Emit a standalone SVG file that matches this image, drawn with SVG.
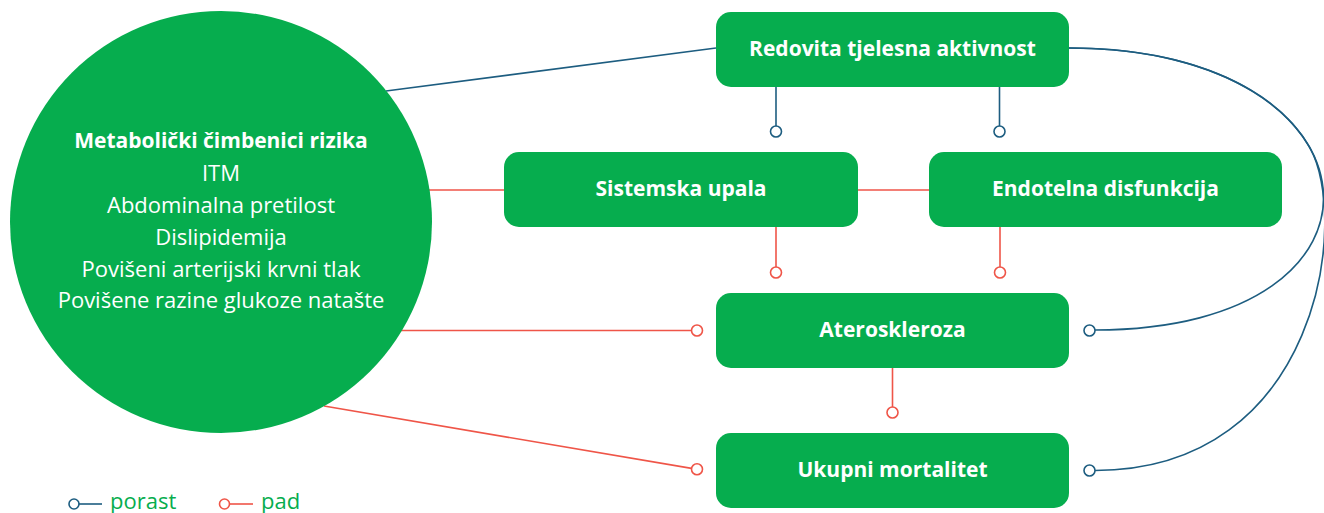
<svg xmlns="http://www.w3.org/2000/svg" width="1324" height="513" viewBox="0 0 1324 513">
<style>
.node{fill:#06ad4e}
.bt{font-family:"Open Sans","Noto Sans",sans-serif;font-weight:bold;font-size:21px;fill:#ffffff;text-anchor:middle}
.ct{font-family:"Open Sans","Noto Sans",sans-serif;font-size:22px;fill:#ffffff;text-anchor:middle}
.up{stroke:#1d5d80;stroke-width:1.6;fill:none}
.dn{stroke:#ef5548;stroke-width:1.6;fill:none}
.mu{stroke:#1d5d80;stroke-width:1.6;fill:#ffffff}
.md{stroke:#ef5548;stroke-width:1.6;fill:#ffffff}
.lg{font-family:"Open Sans","Noto Sans",sans-serif;font-size:22px;fill:#06ad4e}
</style>
<rect width="1324" height="513" fill="#ffffff"/>
<g id="connectors">
  <line class="up" x1="386" y1="91" x2="716" y2="48"/>
  <line class="up" x1="776" y1="87" x2="776" y2="126"/>
  <circle class="mu" cx="776" cy="131.5" r="5.5"/>
  <line class="up" x1="999.5" y1="87" x2="999.5" y2="126"/>
  <circle class="mu" cx="999.5" cy="131.5" r="5.5"/>
  <line class="dn" x1="429" y1="190" x2="929" y2="190"/>
  <line class="dn" x1="776" y1="227" x2="776" y2="267"/>
  <circle class="md" cx="776" cy="272.5" r="5.5"/>
  <line class="dn" x1="1000" y1="227" x2="1000" y2="267"/>
  <circle class="md" cx="1000" cy="272.5" r="5.5"/>
  <line class="dn" x1="401" y1="330.5" x2="691.5" y2="330.5"/>
  <circle class="md" cx="697" cy="330.5" r="5.5"/>
  <line class="dn" x1="324" y1="406" x2="691.6" y2="468.4"/>
  <circle class="md" cx="697" cy="469.3" r="5.5"/>
  <line class="dn" x1="892.5" y1="368" x2="892.5" y2="407"/>
  <circle class="md" cx="892.5" cy="412.5" r="5.5"/>
  <path class="up" d="M1069,48 C1390,48 1417,330 1095,330"/>
  <circle class="mu" cx="1089.5" cy="330.5" r="5.5"/>
  <path class="up" d="M1069,48 C1197.4,48 1278.8,93.1 1309.6,147.2 C1350,218 1320,470.5 1095,470.5"/>
  <circle class="mu" cx="1089.5" cy="470.5" r="5.5"/>
</g>
<g id="node-metabolic">
  <circle class="node" cx="221" cy="222" r="211"/>
  <text class="bt" x="221" y="148">Metabolički čimbenici rizika</text>
  <text class="ct" x="221" y="181">ITM</text>
  <text class="ct" x="221" y="213">Abdominalna pretilost</text>
  <text class="ct" x="221" y="245">Dislipidemija</text>
  <text class="ct" x="221" y="277">Povišeni arterijski krvni tlak</text>
  <text class="ct" x="221" y="308">Povišene razine glukoze natašte</text>
</g>
<g id="node-activity">
  <rect class="node" x="716" y="12" width="353" height="75" rx="15"/>
  <text class="bt" x="892.5" y="56">Redovita tjelesna aktivnost</text>
</g>
<g id="node-inflammation">
  <rect class="node" x="504" y="152" width="354" height="75" rx="15"/>
  <text class="bt" x="681" y="196">Sistemska upala</text>
</g>
<g id="node-endothelial">
  <rect class="node" x="929" y="152" width="353" height="75" rx="15"/>
  <text class="bt" x="1105.5" y="196">Endotelna disfunkcija</text>
</g>
<g id="node-atherosclerosis">
  <rect class="node" x="716" y="293" width="353" height="75" rx="15"/>
  <text class="bt" x="892.5" y="337">Ateroskleroza</text>
</g>
<g id="node-mortality">
  <rect class="node" x="716" y="433" width="353" height="75" rx="15"/>
  <text class="bt" x="892.5" y="477">Ukupni mortalitet</text>
</g>
<g id="legend">
  <circle class="mu" cx="74" cy="504" r="5"/>
  <line class="up" x1="79" y1="504" x2="102" y2="504"/>
  <text class="lg" x="110" y="509">porast</text>
  <circle class="md" cx="224.5" cy="504" r="5"/>
  <line class="dn" x1="229.5" y1="504" x2="253" y2="504"/>
  <text class="lg" x="261" y="509">pad</text>
</g>
</svg>
